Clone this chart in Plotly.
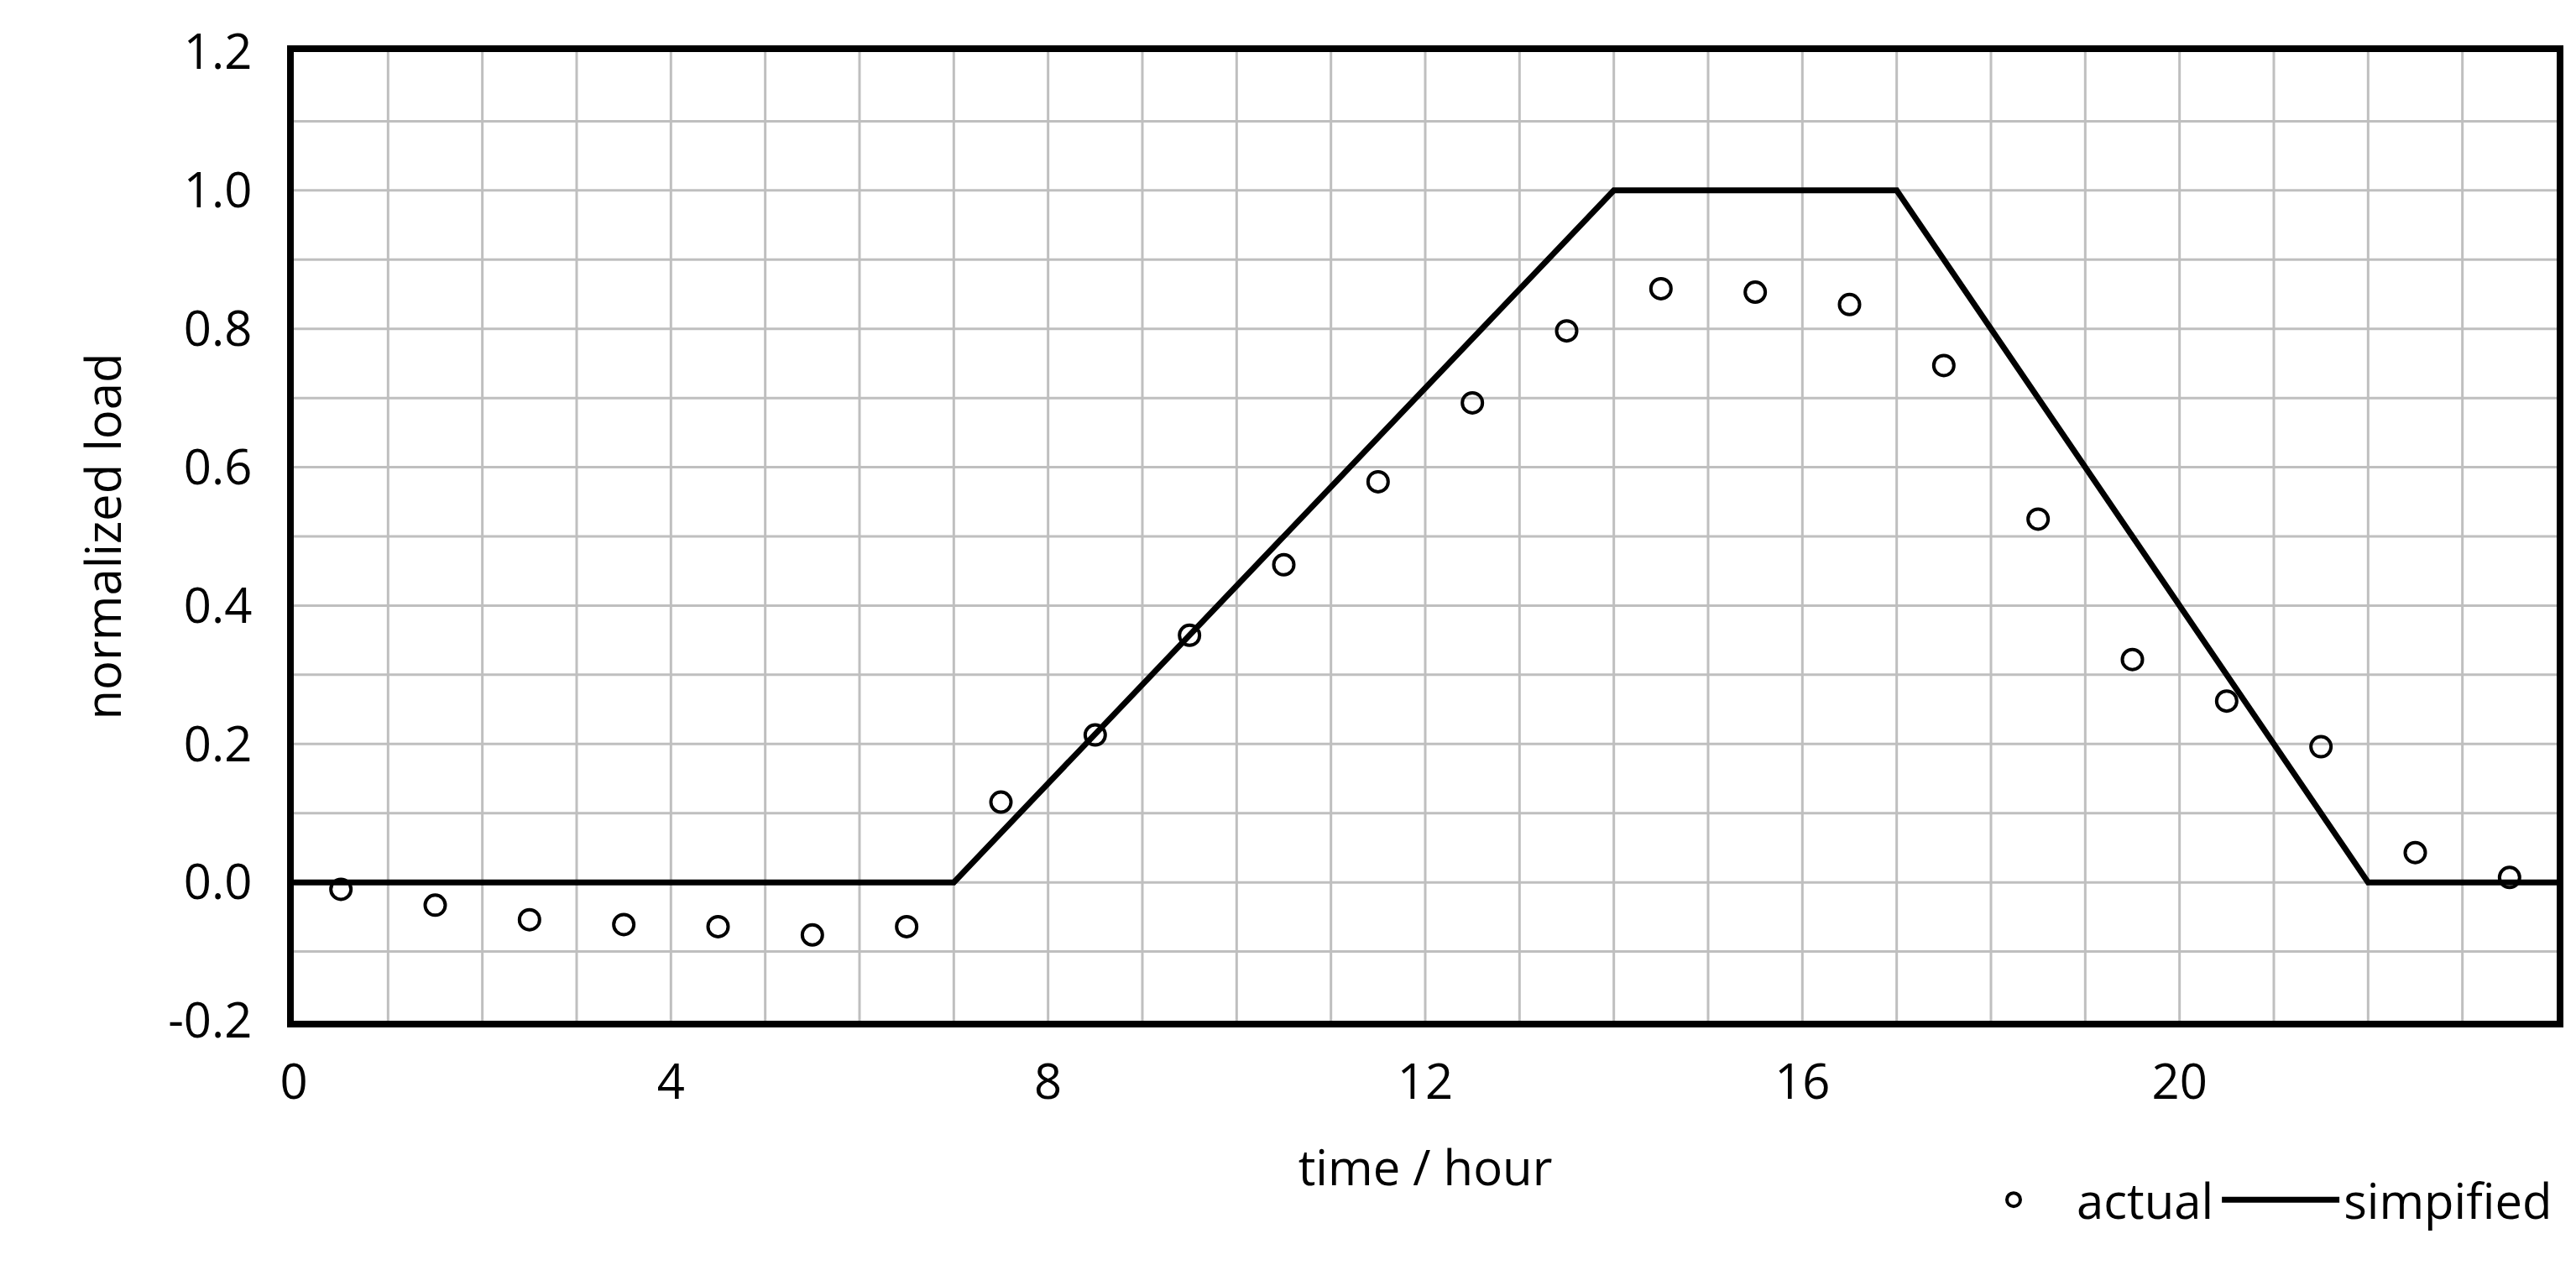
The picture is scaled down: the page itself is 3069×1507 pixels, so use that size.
import plotly.graph_objects as go

hours = [0.5 + i for i in range(24)]
actual = [-0.01, -0.033, -0.054, -0.061, -0.064, -0.076, -0.064, 0.116, 0.213, 0.357,
          0.459, 0.579, 0.693, 0.797, 0.858, 0.853, 0.835, 0.747, 0.525, 0.322,
          0.262, 0.196, 0.043, 0.007]
simp_x = [0, 7, 14, 17, 22, 24]
simp_y = [0, 0, 1.0, 1.0, 0, 0]

font = dict(family="Open Sans, Liberation Sans, sans-serif", size=58, color="black")

fig = go.Figure()
fig.add_trace(go.Scatter(x=hours, y=actual, mode="markers", name="actual",
                         marker=dict(symbol="circle-open", size=24, color="black",
                                     line=dict(width=4, color="black"))))
fig.add_trace(go.Scatter(x=simp_x, y=simp_y, mode="lines", name="simpified",
                         line=dict(color="black", width=7)))

fig.update_layout(
    width=3069, height=1507, paper_bgcolor="white", plot_bgcolor="white",
    margin=dict(l=342, r=31, t=49, b=299), font=font,
    legend=dict(orientation="h", x=1.0, xanchor="right", y=-0.185, yanchor="middle",
                font=font, itemwidth=140, tracegroupgap=40),
    xaxis=dict(range=[0, 24], tickvals=list(range(0, 25, 4)),
               showgrid=False, showline=True, mirror=True, linecolor="black", linewidth=8,
               ticks="", zeroline=False, ticklabelstandoff=15,
               title=dict(text="time / hour", font=font, standoff=50)),
    yaxis=dict(range=[-0.2, 1.2], tickvals=[-0.2, 0, 0.2, 0.4, 0.6, 0.8, 1.0, 1.2],
               ticktext=["-0.2", "0.0", "0.2", "0.4", "0.6", "0.8", "1.0", "1.2"],
               showgrid=False, showline=True, mirror=True, linecolor="black", linewidth=8,
               ticks="", zeroline=False, ticklabelstandoff=30,
               title=dict(text="normalized load", font=font, standoff=40)),
)
for h in range(1, 24):
    fig.add_vline(x=h, line=dict(color="#bfbfbf", width=3), layer="below")
for k in range(-1, 12):
    fig.add_hline(y=k / 10, line=dict(color="#bfbfbf", width=3), layer="below")

fig.write_html("out.html")
